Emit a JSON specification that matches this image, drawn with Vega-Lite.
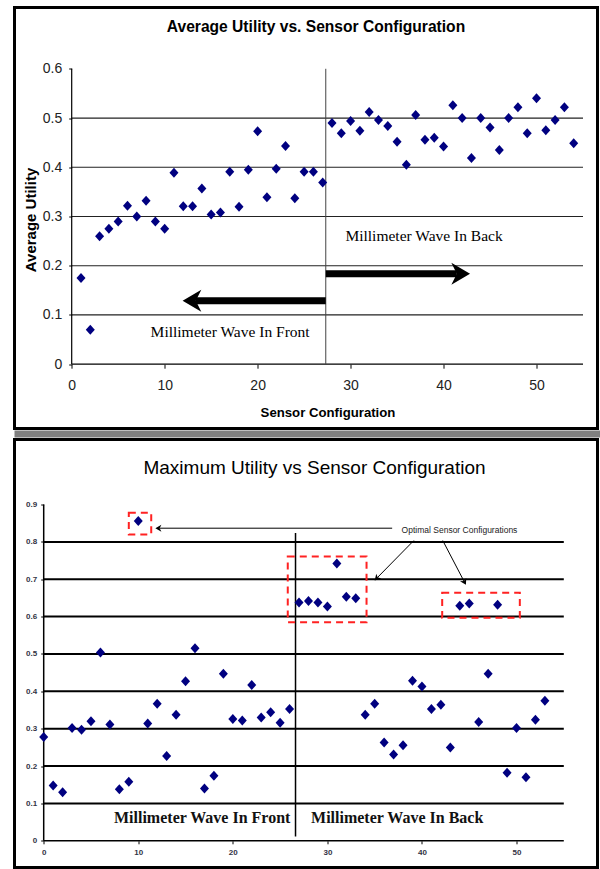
{
  "$schema": "https://vega.github.io/schema/vega-lite/v6.json",
  "background": "white",
  "padding": {"left": 12.5, "top": 5.5, "right": 0, "bottom": 0},
  "spacing": 2,
  "bounds": "flush",
  "config": {
    "view": {"stroke": "#000000", "strokeWidth": 3},
    "axis": {"labelOverlap": false, "labelFlush": false, "domain": false, "grid": false, "tickColor": "#000000", "tickWidth": 1}
  },
  "datasets": {
    "avg": [
      {"config": 1, "utility": 0.175}, {"config": 2, "utility": 0.070}, {"config": 3, "utility": 0.260},
      {"config": 4, "utility": 0.275}, {"config": 5, "utility": 0.290}, {"config": 6, "utility": 0.322},
      {"config": 7, "utility": 0.300}, {"config": 8, "utility": 0.332}, {"config": 9, "utility": 0.290},
      {"config": 10, "utility": 0.275}, {"config": 11, "utility": 0.389}, {"config": 12, "utility": 0.321},
      {"config": 13, "utility": 0.321}, {"config": 14, "utility": 0.357}, {"config": 15, "utility": 0.304},
      {"config": 16, "utility": 0.308}, {"config": 17, "utility": 0.391}, {"config": 18, "utility": 0.320},
      {"config": 19, "utility": 0.395}, {"config": 20, "utility": 0.473}, {"config": 21, "utility": 0.339},
      {"config": 22, "utility": 0.397}, {"config": 23, "utility": 0.443}, {"config": 24, "utility": 0.337},
      {"config": 25, "utility": 0.391}, {"config": 26, "utility": 0.391}, {"config": 27, "utility": 0.369},
      {"config": 28, "utility": 0.490}, {"config": 29, "utility": 0.469}, {"config": 30, "utility": 0.494},
      {"config": 31, "utility": 0.474}, {"config": 32, "utility": 0.512}, {"config": 33, "utility": 0.496},
      {"config": 34, "utility": 0.484}, {"config": 35, "utility": 0.452}, {"config": 36, "utility": 0.405},
      {"config": 37, "utility": 0.506}, {"config": 38, "utility": 0.456}, {"config": 39, "utility": 0.460},
      {"config": 40, "utility": 0.442}, {"config": 41, "utility": 0.526}, {"config": 42, "utility": 0.500},
      {"config": 43, "utility": 0.419}, {"config": 44, "utility": 0.500}, {"config": 45, "utility": 0.481},
      {"config": 46, "utility": 0.435}, {"config": 47, "utility": 0.500}, {"config": 48, "utility": 0.522},
      {"config": 49, "utility": 0.469}, {"config": 50, "utility": 0.540}, {"config": 51, "utility": 0.475},
      {"config": 52, "utility": 0.496}, {"config": 53, "utility": 0.522}, {"config": 54, "utility": 0.449}
    ],
    "max": [
      {"config": 0, "utility": 0.278}, {"config": 1, "utility": 0.148}, {"config": 2, "utility": 0.130},
      {"config": 3, "utility": 0.302}, {"config": 4, "utility": 0.297}, {"config": 5, "utility": 0.320},
      {"config": 6, "utility": 0.504}, {"config": 7, "utility": 0.311}, {"config": 8, "utility": 0.138},
      {"config": 9, "utility": 0.158}, {"config": 10, "utility": 0.856}, {"config": 11, "utility": 0.314},
      {"config": 12, "utility": 0.367}, {"config": 13, "utility": 0.227}, {"config": 14, "utility": 0.337},
      {"config": 15, "utility": 0.427}, {"config": 16, "utility": 0.515}, {"config": 17, "utility": 0.140},
      {"config": 18, "utility": 0.174}, {"config": 19, "utility": 0.447}, {"config": 20, "utility": 0.326},
      {"config": 21, "utility": 0.322}, {"config": 22, "utility": 0.417}, {"config": 23, "utility": 0.330},
      {"config": 24, "utility": 0.344}, {"config": 25, "utility": 0.316}, {"config": 26, "utility": 0.353},
      {"config": 27, "utility": 0.638}, {"config": 28, "utility": 0.642}, {"config": 29, "utility": 0.638},
      {"config": 30, "utility": 0.627}, {"config": 31, "utility": 0.742}, {"config": 32, "utility": 0.653},
      {"config": 33, "utility": 0.649}, {"config": 34, "utility": 0.337}, {"config": 35, "utility": 0.367},
      {"config": 36, "utility": 0.263}, {"config": 37, "utility": 0.231}, {"config": 38, "utility": 0.256},
      {"config": 39, "utility": 0.428}, {"config": 40, "utility": 0.413}, {"config": 41, "utility": 0.353},
      {"config": 42, "utility": 0.364}, {"config": 43, "utility": 0.250}, {"config": 44, "utility": 0.629},
      {"config": 45, "utility": 0.635}, {"config": 46, "utility": 0.318}, {"config": 47, "utility": 0.447},
      {"config": 48, "utility": 0.632}, {"config": 49, "utility": 0.182}, {"config": 50, "utility": 0.302},
      {"config": 51, "utility": 0.170}, {"config": 52, "utility": 0.324}, {"config": 53, "utility": 0.375}
    ],
    "gridTop": [{"level": 0.1}, {"level": 0.2}, {"level": 0.3}, {"level": 0.4}, {"level": 0.5}],
    "gridBottom": [{"level": 0.1}, {"level": 0.2}, {"level": 0.3}, {"level": 0.4}, {"level": 0.5}, {"level": 0.6}, {"level": 0.7}, {"level": 0.8}],
    "notesTop": [
      {"label": "Millimeter Wave In Back", "config": 37.9, "utility": 0.26},
      {"label": "Millimeter Wave In Front", "config": 17.04, "utility": 0.066}
    ],
    "arrowsTop": [
      {"dir": "right", "from": 27.33, "to": 41.43, "utility": 0.1836},
      {"dir": "left", "from": 27.33, "to": 13.35, "utility": 0.1288}
    ],
    "notesBottom": [
      {"label": "Millimeter Wave In Front", "config": 16.76, "utility": 0.0605},
      {"label": "Millimeter Wave In Back", "config": 37.38, "utility": 0.0605}
    ],
    "boxes": [
      {"x1": 9.0, "x2": 11.37, "y1": 0.820, "y2": 0.878},
      {"x1": 25.81, "x2": 34.14, "y1": 0.585, "y2": 0.761},
      {"x1": 42.14, "x2": 50.35, "y1": 0.597, "y2": 0.664}
    ],
    "callout": [{"label": "Optimal Sensor Configurations", "config": 43.97, "utility": 0.833}],
    "pointers": [
      {"id": "a", "x1": 36.85, "y1": 0.8366, "x2": 12.26, "y2": 0.8366},
      {"id": "b", "x1": 39.14, "y1": 0.8036, "x2": 35.31, "y2": 0.705},
      {"id": "c", "x1": 42.2, "y1": 0.8036, "x2": 44.44, "y2": 0.695}
    ]
  },
  "vconcat": [
    {
      "width": 583,
      "height": 421,
      "title": {
        "text": "Average Utility vs. Sensor Configuration",
        "font": "Liberation Sans", "fontSize": 15.6, "fontWeight": "bold", "color": "#000000",
        "anchor": "middle", "frame": "group", "offset": -35, "baseline": "middle", "dx": 10
      },
      "layer": [
        {
          "data": {"name": "gridTop"},
          "mark": {"type": "rule", "color": "#222222", "strokeWidth": 1.2},
          "encoding": {
            "x": {"datum": 0, "type": "quantitative"},
            "x2": {"datum": 55},
            "y": {"field": "level", "type": "quantitative"}
          }
        },
        {
          "data": {"values": [{}]},
          "mark": {"type": "rule", "color": "#000000", "strokeWidth": 1.2},
          "encoding": {
            "x": {"datum": 0, "type": "quantitative"},
            "x2": {"datum": 55},
            "y": {"datum": 0, "type": "quantitative"}
          }
        },
        {
          "data": {"values": [{}]},
          "mark": {"type": "rule", "color": "#000000", "strokeWidth": 1.2},
          "encoding": {
            "x": {"datum": 0, "type": "quantitative"},
            "y": {"datum": 0, "type": "quantitative"},
            "y2": {"datum": 0.6}
          }
        },
        {
          "data": {"values": [{}]},
          "mark": {"type": "rule", "color": "#444444", "strokeWidth": 1},
          "encoding": {
            "x": {"datum": 27.33, "type": "quantitative"},
            "y": {"datum": 0, "type": "quantitative"},
            "y2": {"datum": 0.6}
          }
        },
        {
          "data": {"name": "arrowsTop"},
          "mark": {"type": "rule", "color": "#000000", "strokeWidth": 7, "strokeCap": "butt"},
          "encoding": {
            "x": {"field": "from", "type": "quantitative"},
            "x2": {"field": "to"},
            "y": {"field": "utility", "type": "quantitative"}
          }
        },
        {
          "data": {"name": "arrowsTop"},
          "transform": [{"filter": "datum.dir == 'right'"}],
          "mark": {"type": "point", "shape": "M1.2,0L-0.5,-1L0,0L-0.5,1Z", "filled": true, "color": "#000000", "opacity": 1, "size": 484, "angle": 0},
          "encoding": {
            "x": {"field": "to", "type": "quantitative"},
            "y": {"field": "utility", "type": "quantitative"}
          }
        },
        {
          "data": {"name": "arrowsTop"},
          "transform": [{"filter": "datum.dir == 'left'"}],
          "mark": {"type": "point", "shape": "M1.2,0L-0.5,-1L0,0L-0.5,1Z", "filled": true, "color": "#000000", "opacity": 1, "size": 484, "angle": 180},
          "encoding": {
            "x": {"field": "to", "type": "quantitative"},
            "y": {"field": "utility", "type": "quantitative"}
          }
        },
        {
          "data": {"name": "notesTop"},
          "mark": {"type": "text", "font": "Liberation Serif", "fontSize": 15.5, "color": "#000000", "align": "center", "baseline": "middle"},
          "encoding": {
            "x": {"field": "config", "type": "quantitative"},
            "y": {"field": "utility", "type": "quantitative"},
            "text": {"field": "label"}
          }
        },
        {
          "data": {"name": "avg"},
          "mark": {"type": "point", "shape": "M-0.9,0L0,-1L0.9,0L0,1Z", "filled": true, "color": "#000080", "opacity": 1, "size": 100},
          "encoding": {
            "x": {
              "field": "config", "type": "quantitative",
              "scale": {"domain": [-6.153, 56.56], "nice": false, "zero": false},
              "axis": {
                "values": [0, 10, 20, 30, 40, 50], "offset": -64.3, "tickSize": 4,
                "labelFont": "Liberation Sans", "labelFontSize": 14, "labelColor": "#222222", "labelPadding": 10,
                "title": "Sensor Configuration", "titleFont": "Liberation Sans", "titleFontSize": 13.2, "titleFontWeight": "bold", "titleColor": "#000000",
                "titleX": 313, "titleY": 48, "titleBaseline": "middle", "titleAlign": "center"
              }
            },
            "y": {
              "field": "utility", "type": "quantitative",
              "scale": {"domain": [-0.1306, 0.7245], "nice": false, "zero": false},
              "axis": {
                "values": [0, 0.1, 0.2, 0.3, 0.4, 0.5, 0.6], "format": ".1~f", "offset": -57.2, "tickSize": 3,
                "labelFont": "Liberation Sans", "labelFontSize": 14, "labelColor": "#222222", "labelPadding": 7,
                "title": "Average Utility", "titleFont": "Liberation Sans", "titleFontSize": 15, "titleFontWeight": "bold", "titleColor": "#000000",
                "titleX": -41, "titleY": 212, "titleBaseline": "middle", "titleAlign": "center", "titleAngle": 270
              }
            }
          }
        }
      ]
    },
    {
      "width": 586,
      "height": 7,
      "view": {"fill": "#808080", "stroke": null},
      "data": {"values": []},
      "mark": {"type": "point"},
      "encoding": {}
    },
    {
      "width": 583,
      "height": 428,
      "title": {
        "text": "Maximum Utility vs Sensor Configuration",
        "font": "Liberation Sans", "fontSize": 19, "fontWeight": "normal", "color": "#000000",
        "anchor": "middle", "frame": "group", "offset": -47, "baseline": "middle", "dx": 8.5
      },
      "layer": [
        {
          "data": {"name": "gridBottom"},
          "mark": {"type": "rule", "color": "#000000", "strokeWidth": 2},
          "encoding": {
            "x": {"datum": 0, "type": "quantitative"},
            "x2": {"datum": 55},
            "y": {"field": "level", "type": "quantitative"}
          }
        },
        {
          "data": {"values": [{}]},
          "mark": {"type": "rule", "color": "#000000", "strokeWidth": 1.5},
          "encoding": {
            "x": {"datum": 0, "type": "quantitative"},
            "x2": {"datum": 55},
            "y": {"datum": 0, "type": "quantitative"}
          }
        },
        {
          "data": {"values": [{}]},
          "mark": {"type": "rule", "color": "#000000", "strokeWidth": 1.5},
          "encoding": {
            "x": {"datum": 0, "type": "quantitative"},
            "y": {"datum": 0, "type": "quantitative"},
            "y2": {"datum": 0.9}
          }
        },
        {
          "data": {"values": [{}]},
          "mark": {"type": "rule", "color": "#000000", "strokeWidth": 1.5},
          "encoding": {
            "x": {"datum": 26.63, "type": "quantitative"},
            "y": {"datum": 0.0115, "type": "quantitative"},
            "y2": {"datum": 0.824}
          }
        },
        {
          "data": {"name": "boxes"},
          "mark": {"type": "rect", "fill": null, "fillOpacity": 0, "stroke": "#ff2222", "strokeWidth": 2, "strokeDash": [7, 5]},
          "encoding": {
            "x": {"field": "x1", "type": "quantitative"},
            "x2": {"field": "x2"},
            "y": {"field": "y1", "type": "quantitative"},
            "y2": {"field": "y2"}
          }
        },
        {
          "data": {"name": "pointers"},
          "mark": {"type": "rule", "color": "#000000", "strokeWidth": 1},
          "encoding": {
            "x": {"field": "x1", "type": "quantitative"},
            "x2": {"field": "x2"},
            "y": {"field": "y1", "type": "quantitative"},
            "y2": {"field": "y2"}
          }
        },
        {
          "data": {"name": "pointers"},
          "transform": [{"filter": "datum.id == 'a'"}],
          "mark": {"type": "point", "shape": "M1.2,0L-0.5,-1L0,0L-0.5,1Z", "filled": true, "color": "#000000", "opacity": 1, "size": 50, "angle": 180},
          "encoding": {
            "x": {"field": "x2", "type": "quantitative"},
            "y": {"field": "y2", "type": "quantitative"}
          }
        },
        {
          "data": {"name": "pointers"},
          "transform": [{"filter": "datum.id == 'b'"}],
          "mark": {"type": "point", "shape": "M1.2,0L-0.5,-1L0,0L-0.5,1Z", "filled": true, "color": "#000000", "opacity": 1, "size": 50, "angle": 134},
          "encoding": {
            "x": {"field": "x2", "type": "quantitative"},
            "y": {"field": "y2", "type": "quantitative"}
          }
        },
        {
          "data": {"name": "pointers"},
          "transform": [{"filter": "datum.id == 'c'"}],
          "mark": {"type": "point", "shape": "M1.2,0L-0.5,-1L0,0L-0.5,1Z", "filled": true, "color": "#000000", "opacity": 1, "size": 50, "angle": 62},
          "encoding": {
            "x": {"field": "x2", "type": "quantitative"},
            "y": {"field": "y2", "type": "quantitative"}
          }
        },
        {
          "data": {"name": "callout"},
          "mark": {"type": "text", "font": "Liberation Sans", "fontSize": 8.5, "color": "#222222", "align": "center", "baseline": "middle"},
          "encoding": {
            "x": {"field": "config", "type": "quantitative"},
            "y": {"field": "utility", "type": "quantitative"},
            "text": {"field": "label"}
          }
        },
        {
          "data": {"name": "notesBottom"},
          "mark": {"type": "text", "font": "Liberation Serif", "fontSize": 16, "fontWeight": "bold", "color": "#111111", "align": "center", "baseline": "middle"},
          "encoding": {
            "x": {"field": "config", "type": "quantitative"},
            "y": {"field": "utility", "type": "quantitative"},
            "text": {"field": "label"}
          }
        },
        {
          "data": {"name": "max"},
          "mark": {"type": "point", "shape": "M-0.9,0L0,-1L0.9,0L0,1Z", "filled": true, "color": "#000080", "opacity": 1, "size": 100},
          "encoding": {
            "x": {
              "field": "config", "type": "quantitative",
              "scale": {"domain": [-3.088, 58.564], "nice": false, "zero": false},
              "axis": {
                "values": [0, 10, 20, 30, 40, 50], "offset": -26.7, "tickSize": 3,
                "labelFont": "Liberation Sans", "labelFontSize": 8, "labelFontWeight": "bold", "labelColor": "#333344", "labelPadding": 5,
                "title": null
              }
            },
            "y": {
              "field": "utility", "type": "quantitative",
              "scale": {"domain": [-0.0715, 1.074], "nice": false, "zero": false},
              "axis": {
                "values": [0, 0.1, 0.2, 0.3, 0.4, 0.5, 0.6, 0.7, 0.8, 0.9], "format": ".1~f", "offset": -29.2, "tickSize": 3,
                "labelFont": "Liberation Sans", "labelFontSize": 8, "labelFontWeight": "bold", "labelColor": "#333344", "labelPadding": 4,
                "title": null
              }
            }
          }
        }
      ]
    }
  ]
}
